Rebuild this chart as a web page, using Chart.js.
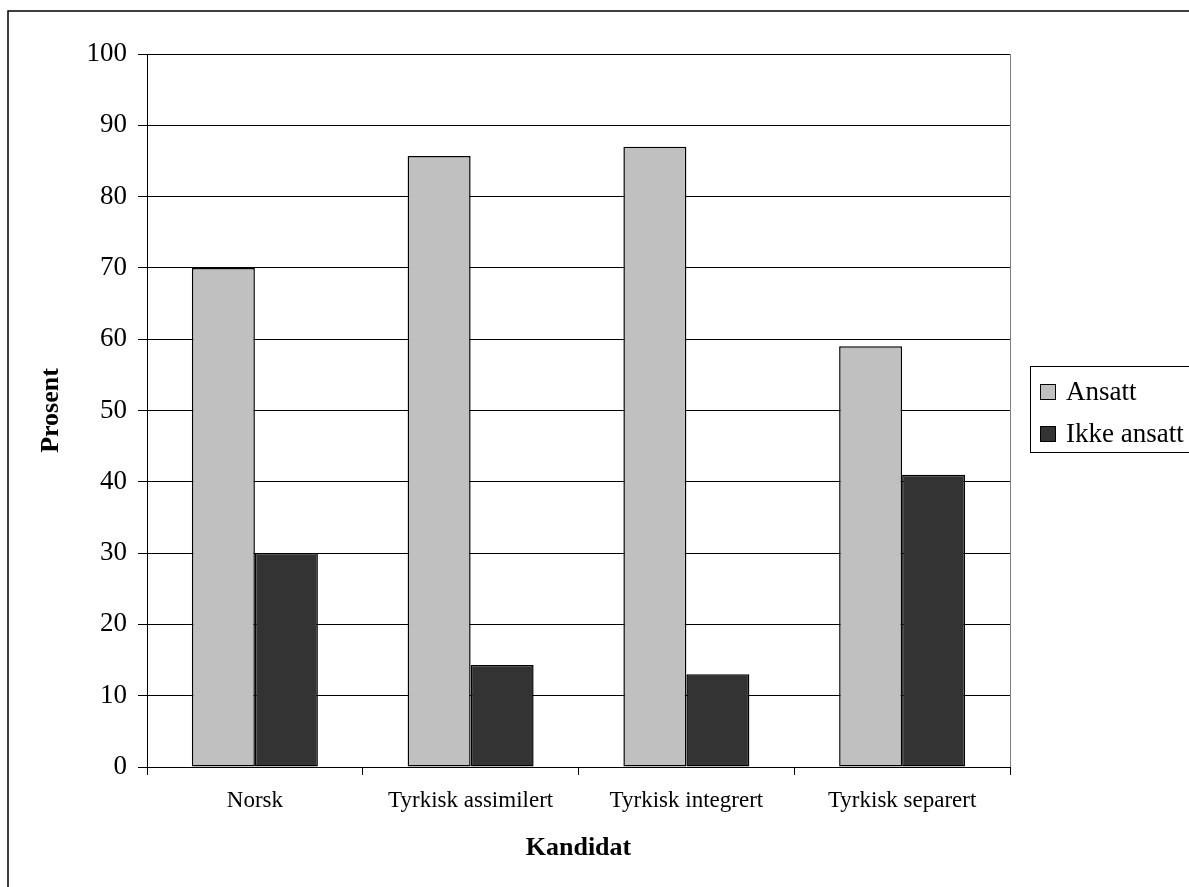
<!DOCTYPE html>
<html>
<head>
<meta charset="utf-8">
<script src="https://cdn.jsdelivr.net/npm/chart.js@4"></script>
<style>
  html, body { margin: 0; padding: 0; background: #fff; }
  canvas { display: block; }
</style>
</head>
<body>
<canvas id="chart" width="1189" height="887"></canvas>
<script>
// Data
const kategorier = ['Norsk', 'Tyrkisk assimilert', 'Tyrkisk integrert', 'Tyrkisk separert'];
const ansatt = [70, 85.7, 87, 59];
const ikkeAnsatt = [30, 14.3, 13, 41];
const serieNavn = ['Ansatt', 'Ikke ansatt'];
const yMin = 0, yMax = 100, yStep = 10;

const FONT = "'Liberation Serif', 'Times New Roman', serif";

// outer frame + plot border + boxed legend
const rammePlugin = {
    id: 'ramme',
    beforeDraw(chart) {
        const ctx = chart.ctx;
        ctx.save();
        ctx.fillStyle = '#fff';
        ctx.fillRect(0, 0, chart.width, chart.height);
        ctx.strokeStyle = '#000';
        ctx.lineWidth = 1.5;
        ctx.strokeRect(8, 11, chart.width + 20, chart.height + 20);
        ctx.restore();
    },
    afterDraw(chart) {
        const ctx = chart.ctx;
        const a = chart.chartArea;
        ctx.save();
        // gray plot border, right side
        ctx.strokeStyle = '#808080';
        ctx.lineWidth = 1;
        ctx.beginPath();
        ctx.moveTo(Math.round(a.right) + 0.5, a.top);
        ctx.lineTo(Math.round(a.right) + 0.5, a.bottom);
        ctx.stroke();

        // legend
        const lx = 1030, ly = 366, lw = 200, lh = 86;
        ctx.strokeStyle = '#000';
        ctx.lineWidth = 1;
        ctx.strokeRect(lx + 0.5, ly + 0.5, lw, lh);
        ctx.font = '27px ' + FONT;
        ctx.textBaseline = 'middle';
        ctx.textAlign = 'left';
        const rader = [392, 434];
        chart.data.datasets.forEach((ds, i) => {
            const cy = rader[i];
            ctx.fillStyle = ds.backgroundColor;
            ctx.fillRect(1040, cy - 8, 16, 16);
            ctx.strokeStyle = '#000';
            ctx.strokeRect(1040.5, cy - 7.5, 15, 15);
            ctx.fillStyle = '#000';
            ctx.fillText(ds.label, 1066, cy + 1);
        });
        ctx.restore();
    }
};

function lagGraf() {
    const ctx = document.getElementById('chart').getContext('2d');
    new Chart(ctx, {
        type: 'bar',
        data: {
            labels: kategorier,
            datasets: [
                {
                    label: serieNavn[0],
                    data: ansatt,
                    backgroundColor: '#c0c0c0',
                    borderColor: '#000',
                    borderWidth: 1.5,
                    borderSkipped: false
                },
                {
                    label: serieNavn[1],
                    data: ikkeAnsatt,
                    backgroundColor: '#333333',
                    borderColor: '#000',
                    borderWidth: 1.5,
                    borderSkipped: false
                }
            ]
        },
        options: {
            responsive: false,
            animation: false,
            datasets: {
                bar: { categoryPercentage: 0.584, barPercentage: 1.0 }
            },
            layout: { padding: { top: 54, right: 179, left: 0, bottom: 0 } },
            plugins: {
                legend: { display: false },
                tooltip: { enabled: false }
            },
            scales: {
                x: {
                    grid: {
                        display: true,
                        offset: true,
                        drawOnChartArea: false,
                        drawTicks: true,
                        tickLength: 8,
                        color: '#000'
                    },
                    border: { color: '#000', width: 1 },
                    ticks: {
                        color: '#000',
                        font: { family: FONT, size: 23 },
                        padding: 12,
                        maxRotation: 0
                    },
                    title: {
                        display: true,
                        text: 'Kandidat',
                        color: '#000',
                        font: { family: FONT, size: 26, weight: 'bold' },
                        padding: { top: 0, bottom: 23 }
                    },
                    afterFit(scale) { scale.height = 120; }
                },
                y: {
                    min: yMin,
                    max: yMax,
                    grid: {
                        color: '#000',
                        tickLength: 9,
                        drawTicks: true
                    },
                    border: { color: '#000', width: 1 },
                    ticks: {
                        stepSize: yStep,
                        color: '#000',
                        font: { family: FONT, size: 27 },
                        padding: 11
                    },
                    title: {
                        display: true,
                        text: 'Prosent',
                        color: '#000',
                        font: { family: FONT, size: 26, weight: 'bold' },
                        padding: { top: 36, bottom: 0 }
                    },
                    afterFit(scale) { scale.width = 147; }
                }
            }
        },
        plugins: [rammePlugin]
    });
}

document.addEventListener('DOMContentLoaded', lagGraf);
</script>
</body>
</html>
